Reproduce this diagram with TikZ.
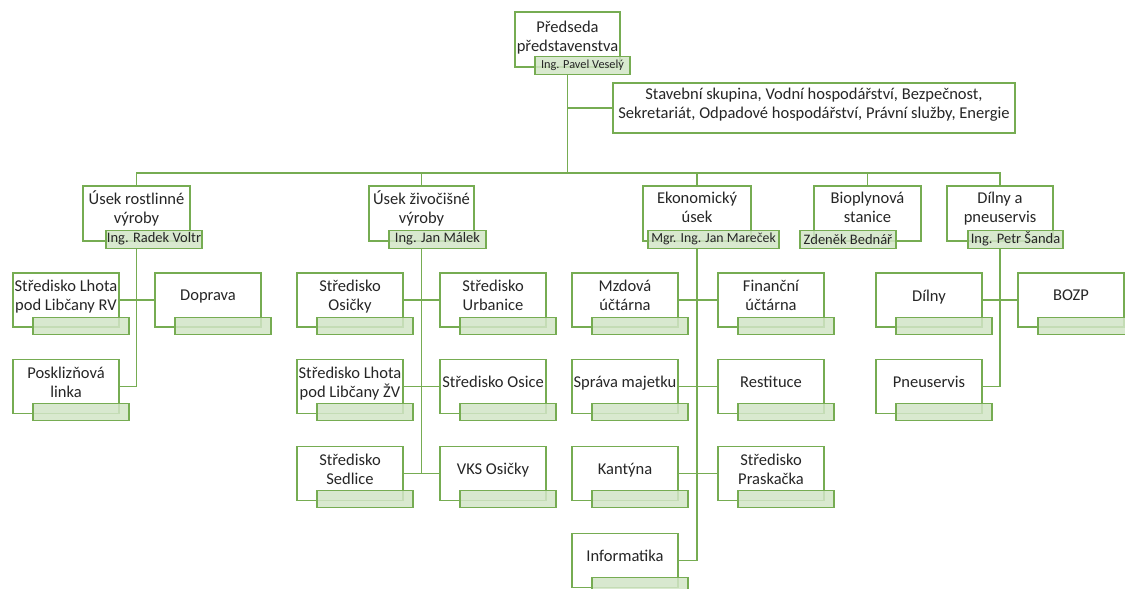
\documentclass[tikz,border=0pt]{standalone}
\usepackage{fontspec}
\setmainfont{Carlito}
\usetikzlibrary{positioning}
\definecolor{orgline}{RGB}{118,172,82}
\definecolor{tagfill}{RGB}{210,229,199}
\definecolor{orgtext}{RGB}{38,38,38}

\begin{document}
\begin{tikzpicture}[x=1pt,y=-1pt,line width=1.1pt,draw=orgline,
                    every node/.style={text=orgtext},
                    unit/.style={draw,fill=white,minimum width=107pt,minimum height=55pt,
                      inner sep=0pt,align=center,text depth=13pt,
                      font=\fontsize{16.5}{19}\selectfont},
                    sub/.style={unit,minimum width=106pt,minimum height=54pt,text depth=9pt}]
  \tikzstyle{tag}=[draw,fill=tagfill,fill opacity=0.85,text opacity=1,inner sep=0pt,
                   minimum width=96pt,minimum height=18pt,anchor=north west,
                   font=\fontsize{14.5}{16}\selectfont]
  \useasboundingbox (0,0) rectangle (1125,589);

  % vedeni
  \node[unit,minimum width=105pt,text depth=7pt] (pred) at (567.5,39.5) {Předseda\\představenstva};
  \node[tag,minimum width=95pt,font=\fontsize{12.3}{14}\selectfont,
        below right=-12pt and 20pt of pred.south west] (predtag) {Ing. Pavel Veselý};
  \node[unit,minimum width=402pt,minimum height=50pt,text depth=9pt] (staff) at (814,108)
       {Stavební skupina, Vodní hospodářství, Bezpečnost,\\Sekretariát, Odpadové hospodářství, Právní služby, Energie};

  % useky
  \node[unit] (rostl) at (136.5,213.5) {Úsek rostlinné\\výroby};
  \node[tag,below right=-12pt and 23pt of rostl.south west] (rostltag) {Ing. Radek Voltr};
  \node[unit,minimum width=105pt] (zivoc) at (421.5,213.5) {Úsek živočišné\\výroby};
  \node[tag,minimum width=97pt,below right=-12pt and 20pt of zivoc.south west] (zivoctag) {Ing. Jan Málek};
  \node[unit,minimum width=108pt] (ekon) at (697,213.5) {Ekonomický\\úsek};
  \node[tag,minimum width=131pt,font=\fontsize{13.8}{16}\selectfont,
        below right=-12pt and 5pt of ekon.south west] (ekontag) {Mgr. Ing. Jan Mareček};
  \node[unit] (bio) at (867.5,213.5) {Bioplynová\\stanice};
  \node[tag,below right=-12pt and -14pt of bio.south west] (biotag) {Zdeněk Bednář};
  \node[unit,minimum width=106pt] (dilny) at (1000,213.5) {Dílny a\\pneuservis};
  \node[tag,minimum width=95pt,below right=-12pt and 21pt of dilny.south west] (dilnytag) {Ing. Petr Šanda};

  % strediska
  \node[sub] (lhotarv)   at (66,300)    {Středisko Lhota\\pod Libčany RV};
  \node[sub] (doprava)   at (208,300)   {Doprava};
  \node[sub] (posklizen) at (66,386.5)  {Posklizňová\\linka};

  \node[sub] (osicky)    at (350,300)   {Středisko\\Osičky};
  \node[sub] (urbanice)  at (493,300)   {Středisko\\Urbanice};
  \node[sub] (lhotazv)   at (350,386.5) {Středisko Lhota\\pod Libčany ŽV};
  \node[sub] (osice)     at (493,386.5) {Středisko Osice};
  \node[sub] (sedlice)   at (350,473.5) {Středisko\\Sedlice};
  \node[sub] (vks)       at (493,473.5) {VKS Osičky};

  \node[sub] (mzdova)    at (625,300)   {Mzdová\\účtárna};
  \node[sub] (financni)  at (771,300)   {Finanční\\účtárna};
  \node[sub] (sprava)    at (625,386.5) {Správa majetku};
  \node[sub] (restituce) at (771,386.5) {Restituce};
  \node[sub] (kantyna)   at (625,473.5) {Kantýna};
  \node[sub] (praskacka) at (771,473.5) {Středisko\\Praskačka};
  \node[sub] (informat)  at (625,560.5) {Informatika};

  \node[sub] (dilnyb)    at (929,300)   {Dílny};
  \node[sub] (bozp)      at (1071,300)  {BOZP};
  \node[sub] (pneu)      at (929,386.5) {Pneuservis};

  \foreach \n in {lhotarv,doprava,posklizen,osicky,urbanice,lhotazv,osice,sedlice,vks,
                  mzdova,financni,sprava,restituce,kantyna,praskacka,informat,dilnyb,bozp,pneu}
    \node[tag,minimum height=17pt,below right=-11pt and 20pt of \n.south west] (\n tag) {};

  % spojnice
  \coordinate (bus) at (567.5,173);
  \draw (pred.south |- predtag.south) -- (bus);
  \draw (pred.south |- staff.west) -- (staff.west);
  \draw (rostl.north) |- (bus) -| (dilny.north);
  \foreach \n in {zivoc,ekon,bio}
    \draw (\n.north) -- (\n.north |- bus);

  \draw (rostl.south |- rostltag.south) |- (posklizen.east);
  \draw (lhotarv.east) -- (doprava.west);

  \draw (zivoc.south |- zivoctag.south) -- (zivoc.south |- sedlice.east);
  \draw (osicky.east) -- (urbanice.west);
  \draw (lhotazv.east) -- (osice.west);
  \draw (sedlice.east) -- (vks.west);

  \draw (ekon.south |- ekontag.south) |- (informat.east);
  \draw (mzdova.east) -- (financni.west);
  \draw (sprava.east) -- (restituce.west);
  \draw (kantyna.east) -- (praskacka.west);

  \draw (dilny.south |- dilnytag.south) |- (pneu.east);
  \draw (dilnyb.east) -- (bozp.west);
\end{tikzpicture}
\end{document}
